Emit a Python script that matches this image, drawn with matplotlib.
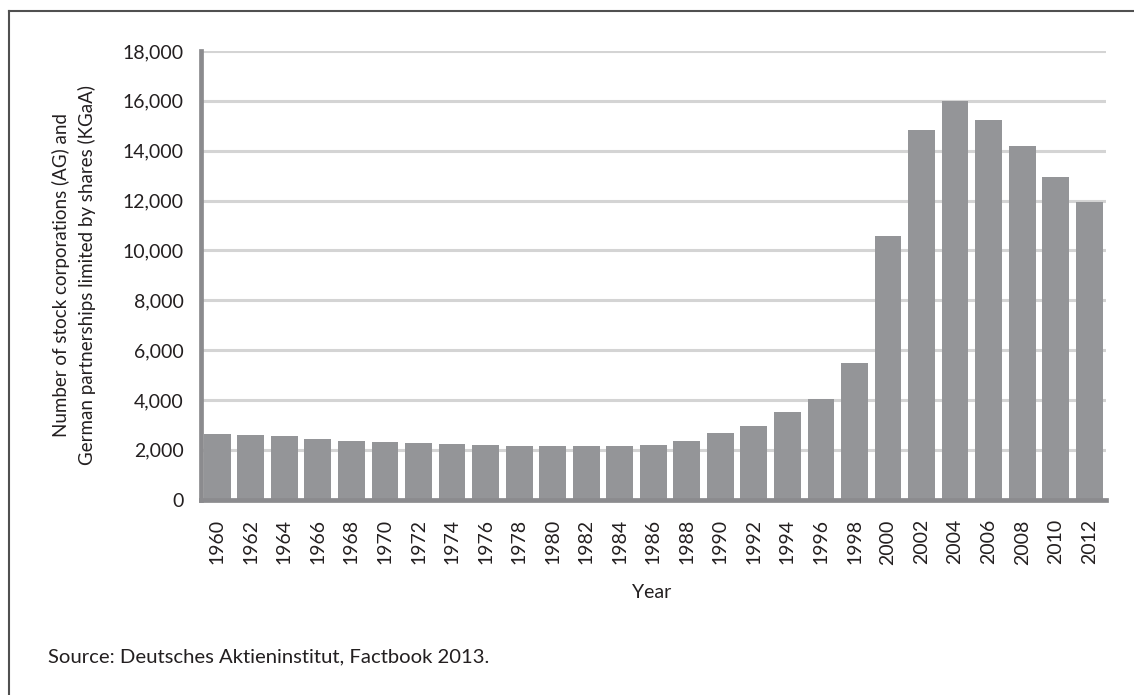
import matplotlib
matplotlib.use('Agg')
import matplotlib.pyplot as plt
from matplotlib.lines import Line2D
from matplotlib.ticker import FuncFormatter

# Number of AGs and KGaAs in Germany, every second year
years = [str(y) for y in range(1960, 2013, 2)]
counts = [2640, 2600, 2560, 2440, 2360, 2320, 2280, 2240, 2200, 2160,
          2160, 2160, 2160, 2200, 2360, 2680, 2960, 3520, 4040, 5480,
          10580, 14820, 16000, 15220, 14180, 12930, 11930]
y_ticks = list(range(0, 18001, 2000))

bar_color = '#949598'
spine_color = '#8b8b8e'
grid_color = '#d4d4d4'
text_color = '#231f20'

plt.rcParams['font.family'] = ['Lato', 'DejaVu Sans']
plt.rcParams['font.size'] = 13.5

W, H = 1134, 695
fig = plt.figure(figsize=(W / 100, H / 100), dpi=100)
ax = fig.add_axes([200.5 / W, (H - 499.7) / H, (1106 - 200.5) / W, (499.7 - 51) / H])

ax.bar(years, counts, width=0.8, color=bar_color, zorder=3)

ax.set_xlim(-0.5, len(years) - 0.5)
ax.set_ylim(0, 18000)
ax.set_yticks(y_ticks)
ax.yaxis.set_major_formatter(FuncFormatter(lambda v, p: f'{int(v):,}'))
ax.grid(axis='y', color=grid_color, linewidth=2.2, zorder=0)
ax.set_axisbelow(True)

ax.tick_params(axis='y', length=0, pad=12, labelsize=14, labelcolor=text_color)
ax.tick_params(axis='x', length=0, pad=14, labelsize=14, labelcolor=text_color,
               labelrotation=90)

for s in ['top', 'right']:
    ax.spines[s].set_visible(False)
for s in ['left', 'bottom']:
    ax.spines[s].set_color(spine_color)
    ax.spines[s].set_linewidth(3.4)
    ax.spines[s].set_zorder(4)

fig.text(74 / W, 1 - 275 / H,
         'Number of stock corporations (AG) and\nGerman partnerships limited by shares (KGaA)',
         rotation=90, ha='center', va='center', fontsize=13.5, color=text_color,
         linespacing=1.55)
fig.text(652 / W, 1 - 593 / H, 'Year', ha='center', va='center',
         fontsize=14, color=text_color)
fig.text(48 / W, 1 - 657 / H, 'Source: Deutsches Aktieninstitut, Factbook 2013.',
         ha='left', va='center', fontsize=14.6, color=text_color)

# outer frame (top and left edges visible)
fig.add_artist(Line2D([9 / W, 1.0], [1 - 11 / H, 1 - 11 / H],
                      transform=fig.transFigure, color='#505050', linewidth=1.5))
fig.add_artist(Line2D([9 / W, 9 / W], [1 - 11 / H, 0.0],
                      transform=fig.transFigure, color='#505050', linewidth=1.5))

fig.savefig('out.png', dpi=100)
